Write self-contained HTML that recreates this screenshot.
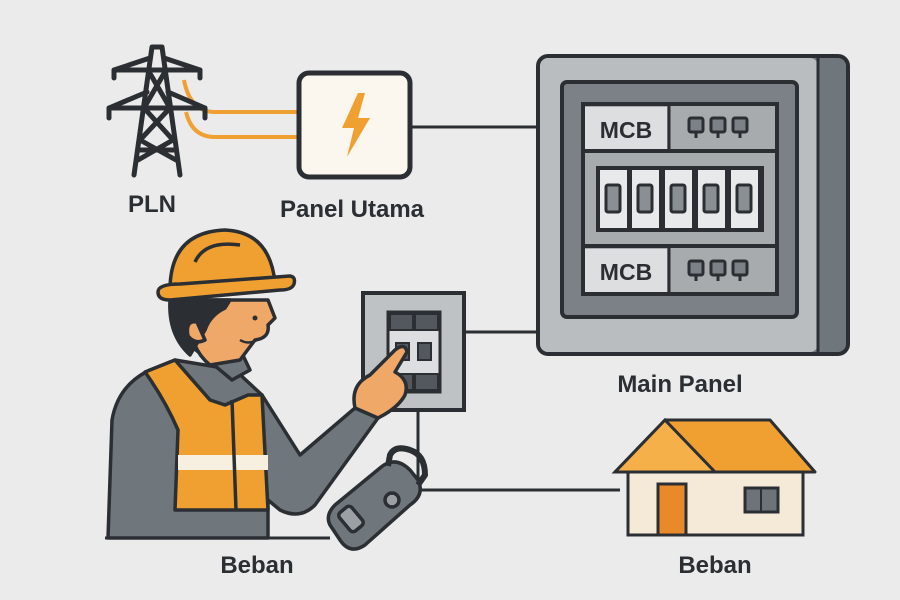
<!DOCTYPE html>
<html><head><meta charset="utf-8"><style>
html,body{margin:0;padding:0;background:#ebebeb}
svg{display:block}
text{font-family:"Liberation Sans",sans-serif;font-weight:bold;fill:#2b2f33}
</style></head><body>
<svg width="900" height="600" viewBox="0 0 900 600" xmlns="http://www.w3.org/2000/svg">
<rect width="900" height="600" fill="#ebebeb"/>
<!-- connector lines -->
<g stroke="#2b2f33" stroke-width="3" fill="none">
<line x1="410" y1="127" x2="540" y2="127"/>
<line x1="464" y1="332" x2="540" y2="332"/>
<polyline points="418,410 418,490 620,490"/>
<line x1="105" y1="538" x2="330" y2="538"/>
</g>
<!-- orange wires -->
<g stroke="#f0a030" stroke-width="4" fill="none">
<path d="M184,80 Q190,112 215,112 L300,112"/>
<path d="M186,112 Q192,137 215,137 L300,137"/>
</g>
<!-- tower -->
<g stroke="#2b2f33" stroke-width="5" fill="none" stroke-linecap="round" stroke-linejoin="round">
<path d="M152,47 L162,47 L180,175 M152,47 L134,175"/>
<path d="M114,78 L114,70 L200,70 L200,78"/>
<path d="M109,118 L109,108 L205,108 L205,118"/>
<path d="M114,70 L150,58 M200,70 L164,58"/>
<path d="M109,108 L147,92 M205,108 L168,92"/>
<path d="M148,70 L170,108 L140,140 L176,160 M166,70 L144,108 L173,140 L138,160"/>
<path d="M138,150 L176,150"/>
</g>
<!-- Panel Utama -->
<rect x="299" y="73" width="111" height="104" rx="10" fill="#fbf6ee" stroke="#2b2f33" stroke-width="5"/>
<path d="M358,93 L342,128 L354,128 L347,157 L370,118 L358,118 L365,93 Z" fill="#f0a030"/>
<text x="152" y="212" font-size="24" text-anchor="middle">PLN</text>
<text x="352" y="217" font-size="24" text-anchor="middle">Panel Utama</text>
<!-- Main Panel -->
<rect x="538" y="56" width="310" height="298" rx="10" fill="#70777c" stroke="#2b2f33" stroke-width="4"/>
<rect x="540" y="58" width="278" height="294" rx="8" fill="#b9bdc0"/>
<line x1="818" y1="58" x2="818" y2="352" stroke="#2b2f33" stroke-width="3"/>
<rect x="562" y="82" width="235" height="235" rx="5" fill="#7b8186" stroke="#2b2f33" stroke-width="4"/>
<rect x="583" y="104" width="194" height="190" fill="#a7abae" stroke="#2b2f33" stroke-width="4"/>
<rect x="585" y="107" width="82" height="42" fill="#dcdedf"/>
<rect x="585" y="249" width="82" height="43" fill="#dcdedf"/>
<line x1="669" y1="106" x2="669" y2="150" stroke="#2b2f33" stroke-width="3"/>
<line x1="669" y1="248" x2="669" y2="293" stroke="#2b2f33" stroke-width="3"/>
<line x1="584" y1="151" x2="776" y2="151" stroke="#2b2f33" stroke-width="4"/>
<line x1="584" y1="246" x2="776" y2="246" stroke="#2b2f33" stroke-width="4"/>
<text x="626" y="138" font-size="23" text-anchor="middle">MCB</text>
<text x="626" y="280" font-size="23" text-anchor="middle">MCB</text>
<g fill="#7b8186" stroke="#2b2f33" stroke-width="3">
<rect x="689" y="118" width="14" height="14" rx="2"/><rect x="711" y="118" width="14" height="14" rx="2"/><rect x="733" y="118" width="14" height="14" rx="2"/>
<rect x="689" y="261" width="14" height="14" rx="2"/><rect x="711" y="261" width="14" height="14" rx="2"/><rect x="733" y="261" width="14" height="14" rx="2"/>
</g>
<g stroke="#2b2f33" stroke-width="3">
<line x1="696" y1="132" x2="696" y2="138"/><line x1="718" y1="132" x2="718" y2="138"/><line x1="740" y1="132" x2="740" y2="138"/>
<line x1="696" y1="275" x2="696" y2="281"/><line x1="718" y1="275" x2="718" y2="281"/><line x1="740" y1="275" x2="740" y2="281"/>
</g>
<rect x="596" y="166" width="168" height="66" fill="#2b2f33"/>
<g fill="#e8e9ea">
<rect x="600" y="170" width="27" height="58"/><rect x="632" y="170" width="27" height="58"/><rect x="665" y="170" width="27" height="58"/><rect x="698" y="170" width="27" height="58"/><rect x="731" y="170" width="27" height="58"/>
</g>
<g fill="#8a8f93" stroke="#2b2f33" stroke-width="3">
<rect x="606" y="185" width="14" height="27" rx="2"/><rect x="638" y="185" width="14" height="27" rx="2"/><rect x="671" y="185" width="14" height="27" rx="2"/><rect x="704" y="185" width="14" height="27" rx="2"/><rect x="737" y="185" width="14" height="27" rx="2"/>
</g>
<text x="680" y="392" font-size="24" text-anchor="middle">Main Panel</text>
<!-- switch panel -->
<rect x="363" y="293" width="101" height="117" fill="#bfc2c5" stroke="#2b2f33" stroke-width="4"/>
<rect x="388" y="312" width="52" height="80" fill="#dcdedf" stroke="#2b2f33" stroke-width="3"/>
<g fill="#52585d" stroke="#2b2f33" stroke-width="2">
<rect x="390" y="314" width="23" height="16"/><rect x="415" y="314" width="23" height="16"/>
<rect x="390" y="374" width="23" height="16"/><rect x="415" y="374" width="23" height="16"/>
<rect x="396" y="343" width="13" height="17"/><rect x="418" y="343" width="13" height="17"/>
</g>
<!-- house -->
<path d="M628,470 L628,535 L803,535 L803,470" fill="#f5ead8" stroke="#2b2f33" stroke-width="3"/>
<path d="M615,472 L665,420 L770,420 L815,472 Z" fill="#f0a030" stroke="#2b2f33" stroke-width="3" stroke-linejoin="round"/>
<path d="M615,472 L665,420 L715,472 Z" fill="#f5b04a" stroke="#2b2f33" stroke-width="3"/>
<rect x="658" y="484" width="28" height="51" fill="#e8892a" stroke="#2b2f33" stroke-width="3"/>
<rect x="745" y="488" width="33" height="24" fill="#6d7378" stroke="#2b2f33" stroke-width="3"/>
<line x1="761" y1="488" x2="761" y2="512" stroke="#2b2f33" stroke-width="2"/>
<text x="257" y="573" font-size="24" text-anchor="middle">Beban</text>
<text x="715" y="573" font-size="24" text-anchor="middle">Beban</text>
<!-- worker -->
<g stroke="#2b2f33" stroke-width="3.5" stroke-linejoin="round">
<!-- body/arm -->
<path d="M108,538 L112,420 Q118,385 150,370 L175,360 L235,370 L262,395 L300,455 L355,408 L378,418 L315,505 Q300,520 280,510 L268,500 L268,538 Z" fill="#6f767c"/>
<!-- vest -->
<path d="M145,372 L175,360 L210,400 L225,405 L248,395 L262,395 L268,510 L175,510 L178,430 Q165,400 145,372 Z" fill="#f0a030"/>
<path d="M178,455 L268,455 L268,470 L178,470 Z" fill="#f7efe0" stroke="none"/>
<line x1="232" y1="400" x2="236" y2="510"/>
<!-- collar -->
<path d="M190,345 L232,380 L250,370 L238,345 Z" fill="#6f767c"/>
<!-- neck/face -->
<path d="M190,300 Q185,345 210,365 L240,360 L255,340 Q270,338 268,325 L275,318 L268,300 Z" fill="#f0a868"/>
<!-- hair -->
<path d="M170,300 Q168,335 190,355 L205,330 Q210,315 225,308 L230,300 Z" fill="#2b2f33"/>
<path d="M197,322 Q185,320 188,336 Q195,345 205,340 Z" fill="#f0a868"/>
<!-- helmet -->
<path d="M170,290 Q170,232 225,230 Q270,232 275,283 Z" fill="#f0a030"/>
<path d="M158,292 Q158,284 180,284 L290,276 Q296,277 294,284 Q292,290 280,290 L170,300 Q158,300 158,292 Z" fill="#f0a030"/>
<path d="M195,262 Q205,240 240,245" fill="none"/>
<!-- hand -->
<path d="M355,408 Q350,385 370,375 L395,350 Q405,342 407,352 L395,372 Q410,380 405,395 Q398,408 378,418 Z" fill="#f0a868"/>
<!-- clamp meter -->
<path d="M335,505 L380,468 Q395,455 410,470 L418,480 Q425,495 410,505 L365,545 Q350,555 340,540 L330,525 Q325,515 335,505 Z" fill="#6f767c"/>
<path d="M388,466 L390,455 Q395,445 410,450 Q425,455 425,475 L418,485" fill="none" stroke-width="6"/>
<rect x="343" y="507" width="16" height="24" rx="4" transform="rotate(-40 351 519)" fill="#9ba0a4"/>
<circle cx="392" cy="500" r="7" fill="#9ba0a4"/>
</g>
<path d="M200,303 Q205,290 225,300" fill="none" stroke="none"/>
<circle cx="255" cy="318" r="2.5" fill="#2b2f33"/>
<path d="M240,340 Q248,345 257,340" fill="none" stroke="#2b2f33" stroke-width="2.5"/>
</svg>
</body></html>
